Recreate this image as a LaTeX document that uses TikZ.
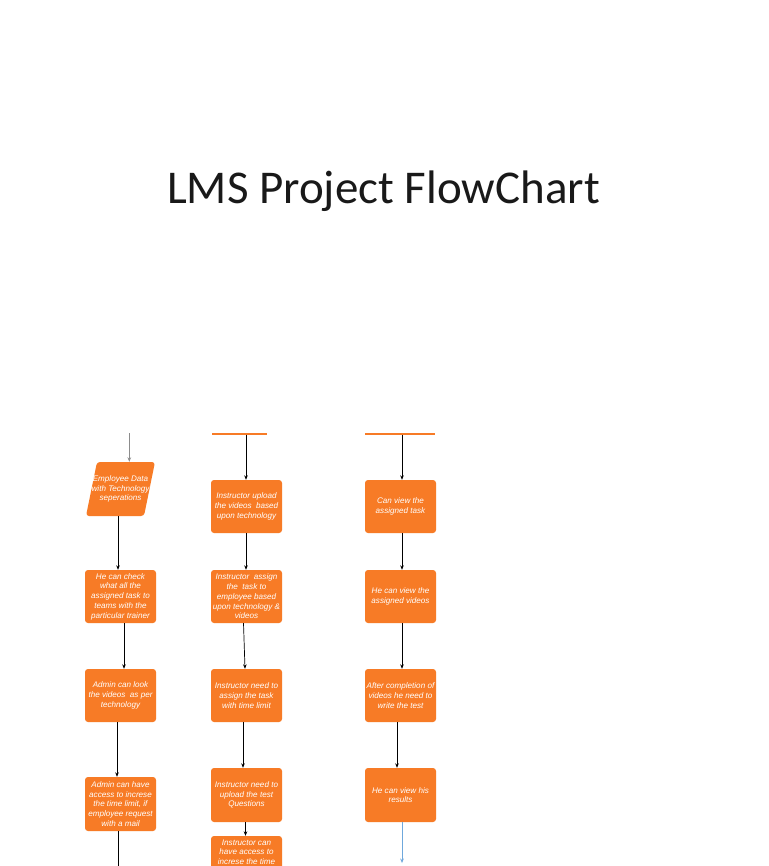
\documentclass[tikz,border=0pt]{standalone}
\usepackage{fontspec}
\setmainfont{Liberation Sans}
\newfontfamily\titlefont{Carlito}
\usetikzlibrary{arrows.meta}
\definecolor{lmsorange}{RGB}{247,123,38}
\definecolor{lmsblue}{RGB}{111,168,220}
\definecolor{lmsgray}{RGB}{140,140,140}
\begin{document}
\begin{tikzpicture}[x=1pt,y=-1pt,
  boxtext/.style={text=white, align=center, inner sep=0pt,
    font=\fontsize{8.1}{9.7}\selectfont\itshape},
  box/.style={boxtext, fill=lmsorange, rounded corners=3pt,
    minimum width=71pt, minimum height=53pt},
  bar/.style={fill=lmsorange, inner sep=0pt, minimum height=2pt},
  arr/.style={draw=black, line width=0.7pt, -{Stealth[length=4.5pt,width=3.6pt]}},
  titlestyle/.style={font=\titlefont\fontsize{47}{54}\selectfont, text=black!90, inner sep=0pt}]
\clip (0,0) rectangle (768,866);
\fill[white] (0,0) rectangle (768,866);

% title
\node[titlestyle, anchor=base] (title) at (383.5,204) {LMS Project FlowChart};

% column 1
\coordinate (c1in) at (129.3,433);
\fill[lmsorange, rounded corners=3pt] (97,462) -- (155,462) -- (144,516) -- (86,516) -- cycle;
\node[boxtext, minimum width=58pt, minimum height=54pt] (c1a) at (120.5,489)
  {Employee Data\\with Technology\\seperations};
\node[box] (c1b) at (120.5,596.5)
  {He can check\\what all the\\assigned task to\\teams with the\\particular trainer};
\node[box] (c1c) at (120.5,695.5)
  {Admin can look\\the videos\ \ as per\\technology};
\node[box, minimum height=54pt] (c1d) at (120.5,804)
  {Admin can have\\access to increse\\the time limit, if\\employee request\\with a mail};
\coordinate (c1out) at (118,872);

\draw[arr, draw=lmsgray] (c1in) -- ([xshift=8.8pt]c1a.north);
\draw[arr] ([xshift=-2.5pt]c1a.south) -- ([xshift=-2.5pt]c1b.north);
\draw[arr] ([xshift=3.5pt]c1b.south) -- ([xshift=3.5pt]c1c.north);
\draw[arr] ([xshift=-3.5pt]c1c.south) -- ([xshift=-3.5pt]c1d.north);
\draw[line width=0.7pt] ([xshift=-2.5pt]c1d.south) -- (c1out);

% column 2
\node[bar, minimum width=55pt] (c2top) at (239.5,433.5) {};
\node[box] (c2a) at (246.5,506.5)
  {Instructor upload\\the videos\ \ based\\upon technology};
\node[box] (c2b) at (246.5,596.5)
  {Instructor\ \ assign\\the\ \ task to\\employee based\\upon technology \&\\videos};
\node[box] (c2c) at (246.5,695.5)
  {Instructor need to\\assign the task\\with time limit};
\node[box, minimum height=54pt] (c2d) at (246.5,795)
  {Instructor need to\\upload the test\\Questions};
\node[box] (c2e) at (246.5,862.5) {};
\node[boxtext, anchor=north] (c2etext) at (246.5,839.5)
  {Instructor can\\have access to\\increse the time};

\draw[arr] ([xshift=6.5pt]c2top.south) -- ([xshift=-0.5pt]c2a.north);
\draw[arr] ([xshift=-0.5pt]c2a.south) -- ([xshift=-0.5pt]c2b.north);
\draw[arr] ([xshift=-3pt]c2b.south) -- ([xshift=-1.5pt]c2c.north);
\draw[arr] ([xshift=-3.5pt]c2c.south) -- ([xshift=-3.5pt]c2d.north);
\draw[arr] ([xshift=-1pt]c2d.south) -- ([xshift=-1pt]c2e.north);

% column 3
\node[bar, minimum width=70pt] (c3top) at (400,433.5) {};
\node[box] (c3a) at (400.5,506.5)
  {Can view the\\assigned task};
\node[box] (c3b) at (400.5,596.5)
  {He can view the\\assigned videos};
\node[box] (c3c) at (400.5,695.5)
  {After completion of\\videos he need to\\write the test};
\node[box, minimum height=54pt] (c3d) at (400.5,795)
  {He can view his\\results};
\coordinate (c3out) at (402,863);

\draw[arr] ([xshift=2pt]c3top.south) -- ([xshift=1.5pt]c3a.north);
\draw[arr] ([xshift=1.5pt]c3a.south) -- ([xshift=1.5pt]c3b.north);
\draw[arr] ([xshift=1.5pt]c3b.south) -- ([xshift=1.5pt]c3c.north);
\draw[arr] ([xshift=-3.5pt]c3c.south) -- ([xshift=-3.5pt]c3d.north);
\draw[arr, draw=lmsblue] ([xshift=1.5pt]c3d.south) -- (c3out);
\end{tikzpicture}
\end{document}
